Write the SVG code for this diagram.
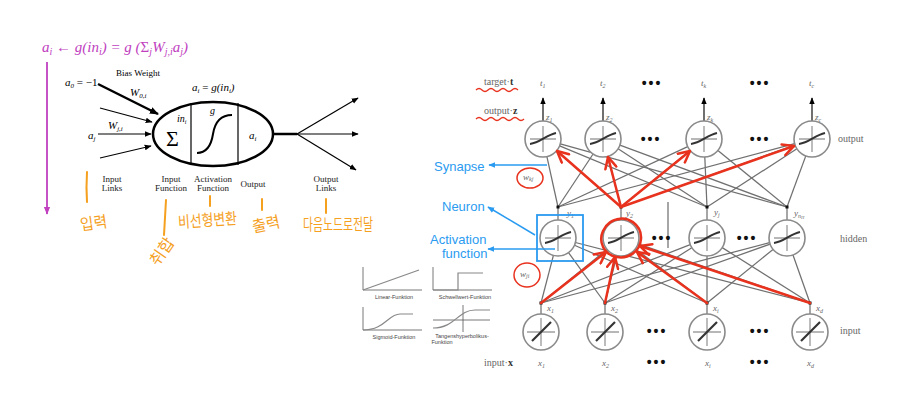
<svg xmlns="http://www.w3.org/2000/svg" width="908" height="402" viewBox="0 0 908 402">
<defs>
<style>
.ser{font-family:"Liberation Serif","DejaVu Serif",serif}
.it{font-style:italic}
.lbl{font-family:"Liberation Serif",serif;font-size:9px;fill:#222;text-anchor:middle}
.gl{font-family:"Liberation Serif",serif;font-style:italic;font-size:9px;fill:#666}
.glc{font-family:"Liberation Serif",serif;font-size:10px;fill:#666}
.dots{font-family:"Liberation Sans",sans-serif;font-size:14px;fill:#111;font-weight:bold;text-anchor:middle;letter-spacing:2px}
.ko{font-family:"Noto Sans CJK KR",sans-serif;font-size:16px;fill:#f5a01e}
.or{stroke:#f5a01e;stroke-width:2;fill:none;stroke-linecap:round}
.blue{font-family:"Liberation Sans","Open Sans",sans-serif;font-size:13px;fill:#2a9bf0}
.conn line{stroke:#707070;stroke-width:1.25}
.nc{fill:#fff;stroke:#8a8a8a;stroke-width:1.6}
.cross{stroke:#a0a0a0;stroke-width:1.4}
.act{stroke:#333;stroke-width:2;fill:none}
.red{stroke:#e8321e;stroke-width:2.5;fill:none;stroke-linecap:round}
.tiny{font-family:"Liberation Sans",sans-serif;font-size:5.5px;fill:#444;text-anchor:middle}
.ax{stroke:#555;stroke-width:0.8;fill:none}
.cv{stroke:#888;stroke-width:1.2;fill:none}
</style>
<marker id="ab" viewBox="0 0 10 10" refX="9" refY="5" markerWidth="7" markerHeight="7" markerUnits="userSpaceOnUse" orient="auto"><path d="M0,1 L10,5 L0,9 z" fill="#000"/></marker>
<marker id="abk" viewBox="0 0 10 10" refX="9" refY="5" markerWidth="9" markerHeight="9" markerUnits="userSpaceOnUse" orient="auto"><path d="M0,1 L10,5 L0,9 z" fill="#000"/></marker>
<marker id="ap" viewBox="0 0 10 10" refX="9" refY="5" markerWidth="8" markerHeight="8" markerUnits="userSpaceOnUse" orient="auto"><path d="M0,1 L10,5 L0,9 z" fill="#c040c0"/></marker>
<marker id="abl" viewBox="0 0 10 10" refX="9" refY="5" markerWidth="7" markerHeight="7" markerUnits="userSpaceOnUse" orient="auto"><path d="M0,1 L10,5 L0,9 z" fill="#2a9bf0"/></marker>
<marker id="ar" viewBox="0 0 10 10" refX="9" refY="5" markerWidth="14" markerHeight="14" markerUnits="userSpaceOnUse" orient="auto"><path d="M1,1 L9,5 L1,9" fill="none" stroke="#e8321e" stroke-width="1.8" stroke-linecap="round" stroke-linejoin="round"/></marker>
</defs>
<rect width="908" height="402" fill="#fff"/>

<!-- LEFT: single neuron model -->
<g id="formula">
<text x="42" y="52" class="ser it" font-size="15" fill="#c040c0">a<tspan font-size="10" dy="3">i</tspan><tspan dy="-3"> ← g(in</tspan><tspan font-size="10" dy="3">i</tspan><tspan dy="-3">) = g (</tspan><tspan font-style="normal">Σ</tspan><tspan font-size="10" dy="3">j</tspan><tspan dy="-3">W</tspan><tspan font-size="10" dy="3">j,i</tspan><tspan dy="-3">a</tspan><tspan font-size="10" dy="3">j</tspan><tspan dy="-3">)</tspan></text>
<line x1="47" y1="62" x2="47" y2="214" stroke="#c040c0" stroke-width="1.8" marker-end="url(#ap)"/>
</g>

<g id="neuron-inputs">
<text x="65" y="86" class="ser it" font-size="11" fill="#000">a<tspan font-size="7" dy="2">0</tspan><tspan dy="-2" font-style="normal"> = −1</tspan></text>
<text x="138" y="76" class="ser" font-size="9" fill="#000" text-anchor="middle">Bias Weight</text>
<text x="130" y="96" class="ser it" font-size="11" fill="#000">W<tspan font-size="7" dy="2">0,i</tspan></text>
<text x="108" y="129" class="ser it" font-size="11" fill="#000">W<tspan font-size="7" dy="2">j,i</tspan></text>
<text x="88" y="139" class="ser it" font-size="11" fill="#000">a<tspan font-size="7" dy="2">j</tspan></text>
<line x1="98" y1="84" x2="158" y2="114" stroke="#000" stroke-width="2.5" marker-end="url(#abk)"/>
<line x1="100" y1="108" x2="152" y2="122" stroke="#000" stroke-width="1.2" marker-end="url(#ab)"/>
<line x1="98" y1="134" x2="151" y2="134" stroke="#000" stroke-width="1.2" marker-end="url(#ab)"/>
<line x1="100" y1="158" x2="151" y2="146" stroke="#000" stroke-width="1.2" marker-end="url(#ab)"/>
</g>

<g id="neuron-body">
<text x="192" y="91" class="ser it" font-size="11" fill="#000">a<tspan font-size="7" dy="2">i</tspan><tspan dy="-2" font-style="normal"> = </tspan>g(in<tspan font-size="7" dy="2">i</tspan><tspan dy="-2">)</tspan></text>
<ellipse cx="213" cy="134" rx="60" ry="32" fill="#fff" stroke="#000" stroke-width="2.5"/>
<line x1="191" y1="103" x2="191" y2="165" stroke="#000" stroke-width="1.2"/>
<line x1="238" y1="103" x2="238" y2="165" stroke="#000" stroke-width="1.2"/>
<text x="166" y="146" class="ser" font-size="22" fill="#000">Σ</text>
<text x="177" y="122" class="ser it" font-size="10" fill="#000">in<tspan font-size="6" dy="2">i</tspan></text>
<text x="210" y="114" class="ser it" font-size="10" fill="#000">g</text>
<path d="M197,153 Q210,153 213,134 Q216,115 232,115" fill="none" stroke="#000" stroke-width="2"/>
<text x="249" y="139" class="ser it" font-size="11" fill="#000">a<tspan font-size="7" dy="2">i</tspan></text>
</g>

<g id="neuron-outputs">
<line x1="273" y1="134" x2="297" y2="134" stroke="#000" stroke-width="2.5"/>
<line x1="297" y1="134" x2="358" y2="98" stroke="#000" stroke-width="1.2" marker-end="url(#ab)"/>
<line x1="297" y1="134" x2="358" y2="134" stroke="#000" stroke-width="1.2" marker-end="url(#ab)"/>
<line x1="297" y1="134" x2="356" y2="170" stroke="#000" stroke-width="1.2" marker-end="url(#ab)"/>
</g>

<g id="neuron-labels">
<text class="lbl"><tspan x="112" y="182">Input</tspan><tspan x="112" y="191">Links</tspan></text>
<text class="lbl"><tspan x="171" y="182">Input</tspan><tspan x="171" y="191">Function</tspan></text>
<text class="lbl"><tspan x="213" y="182">Activation</tspan><tspan x="213" y="191">Function</tspan></text>
<text class="lbl" x="253" y="187">Output</text>
<text class="lbl"><tspan x="326" y="182">Output</tspan><tspan x="326" y="191">Links</tspan></text>
</g>

<g id="korean-notes">
<path class="or" d="M87,172 Q86,188 87,202"/>
<text class="ko" x="80" y="229" textLength="27" lengthAdjust="spacingAndGlyphs" transform="rotate(-8 92 222)">입력</text>
<path class="or" d="M166,200 Q165,218 164,235"/>
<text class="ko" x="147" y="258" textLength="30" lengthAdjust="spacingAndGlyphs" transform="rotate(-55 161 252)">취합</text>
<path class="or" d="M210,196 L210,206"/>
<text class="ko" x="178" y="226" textLength="59" lengthAdjust="spacingAndGlyphs" transform="rotate(-4 207 220)">비선형변환</text>
<path class="or" d="M262,199 L262,210"/>
<text class="ko" x="252" y="230" textLength="28" lengthAdjust="spacingAndGlyphs" transform="rotate(-12 266 224)">출력</text>
<path class="or" d="M326,199 L326,213"/>
<text class="ko" x="303" y="230" font-size="15" textLength="70" lengthAdjust="spacingAndGlyphs">다음노드로전달</text>
</g>

<!-- RIGHT: multilayer network -->
<g id="activation-charts">
<path class="ax" d="M363,290 L363,267 M363,290 L422,290"/>
<path class="cv" d="M363,290 L419,270"/>
<text class="tiny" x="394" y="299">Linear-Funktion</text>
<path class="ax" d="M433,290 L433,267 M433,290 L492,290"/>
<path class="cv" d="M433,290 L458,290 L458,273 L483,273"/>
<text class="tiny" x="465" y="299">Schwellwert-Funktion</text>
<path class="ax" d="M363,330 L363,307 M363,330 L422,330"/>
<path class="cv" d="M363,330 C385,330 388,314 400,314 L413,314"/>
<text class="tiny" x="394" y="339">Sigmoid-Funktion</text>
<path class="ax" d="M463,332 L463,305 M433,320 L490,320"/>
<path class="cv" d="M433,328 C455,328 458,310 475,310 L490,310"/>
<text class="tiny" x="462" y="338">Tangenshyperbolikus-</text>
<text class="tiny" x="442" y="344">Funktion</text>
</g>

<g id="connectors" class="conn">
<line x1="541" y1="303" x2="553.4" y2="255.4"/><line x1="605" y1="303" x2="568.5" y2="252.6"/><line x1="707" y1="303" x2="574.5" y2="245.2"/><line x1="810" y1="303" x2="575.4" y2="242.5"/>
<line x1="541" y1="303" x2="607" y2="249.4"/><line x1="605" y1="303" x2="616.7" y2="255.5"/><line x1="707" y1="303" x2="635.4" y2="248.9"/><line x1="810" y1="303" x2="638" y2="243.9"/>
<line x1="541" y1="303" x2="690.2" y2="244.6"/><line x1="605" y1="303" x2="691.8" y2="247.7"/><line x1="707" y1="303" x2="707" y2="256"/><line x1="810" y1="303" x2="722.2" y2="247.6"/>
<line x1="541" y1="303" x2="769.6" y2="242.6"/><line x1="605" y1="303" x2="770.1" y2="244.1"/><line x1="707" y1="303" x2="773" y2="249.4"/><line x1="810" y1="303" x2="793" y2="255"/>
<line x1="558" y1="207" x2="546.9" y2="156.6"/><line x1="621" y1="207" x2="556.6" y2="150.8"/><line x1="707" y1="207" x2="559.6" y2="145.9"/><line x1="787" y1="207" x2="560.3" y2="143.8"/>
<line x1="558" y1="207" x2="593.1" y2="154"/><line x1="621" y1="207" x2="607.6" y2="156.4"/><line x1="707" y1="207" x2="618.1" y2="148.8"/><line x1="787" y1="207" x2="619.9" y2="145.2"/>
<line x1="558" y1="207" x2="687.7" y2="146.6"/><line x1="621" y1="207" x2="690.1" y2="150.4"/><line x1="707" y1="207" x2="704.8" y2="157"/><line x1="787" y1="207" x2="717.9" y2="150.4"/>
<line x1="558" y1="207" x2="794.6" y2="143.7"/><line x1="621" y1="207" x2="795" y2="145"/><line x1="707" y1="207" x2="796.9" y2="148.8"/><line x1="787" y1="207" x2="805.8" y2="155.9"/>
<line x1="541" y1="303" x2="541" y2="314"/><line x1="605" y1="303" x2="605" y2="314"/><line x1="707" y1="303" x2="707" y2="314"/><line x1="810" y1="303" x2="810" y2="314"/>
<line x1="558" y1="207" x2="558" y2="220"/><line x1="621" y1="207" x2="621" y2="220"/><line x1="707" y1="207" x2="707" y2="220"/><line x1="787" y1="207" x2="787" y2="220"/>
<line x1="668" y1="202" x2="668" y2="248"/>
<line x1="543" y1="121" x2="543" y2="98" style="stroke:#222;stroke-width:1.3" marker-end="url(#ab)"/>
<line x1="603" y1="121" x2="603" y2="98" style="stroke:#222;stroke-width:1.3" marker-end="url(#ab)"/>
<line x1="704" y1="121" x2="704" y2="98" style="stroke:#222;stroke-width:1.3" marker-end="url(#ab)"/>
<line x1="812" y1="121" x2="812" y2="98" style="stroke:#222;stroke-width:1.3" marker-end="url(#ab)"/>
</g>

<g id="junction-dots" fill="#111">
<rect x="539.5" y="301.5" width="3" height="3"/><rect x="603.5" y="301.5" width="3" height="3"/><rect x="705.5" y="301.5" width="3" height="3"/><rect x="808.5" y="301.5" width="3" height="3"/>
<rect x="556.5" y="205.5" width="3" height="3"/><rect x="619.5" y="205.5" width="3" height="3"/><rect x="705.5" y="205.5" width="3" height="3"/><rect x="785.5" y="205.5" width="3" height="3"/>
</g>

<g id="output-nodes">
<g id="out-1"><circle class="nc" cx="543" cy="139" r="18"/><path class="cross" d="M530,139 H556 M543,126 V152"/><path class="act" d="M530,144 C540,143 546,135 556,133"/></g>
<g id="out-2"><circle class="nc" cx="603" cy="139" r="18"/><path class="cross" d="M590,139 H616 M603,126 V152"/><path class="act" d="M590,144 C600,143 606,135 616,133"/></g>
<g id="out-k"><circle class="nc" cx="704" cy="139" r="18"/><path class="cross" d="M691,139 H717 M704,126 V152"/><path class="act" d="M691,144 C701,143 707,135 717,133"/></g>
<g id="out-c"><circle class="nc" cx="812" cy="139" r="18"/><path class="cross" d="M799,139 H825 M812,126 V152"/><path class="act" d="M799,144 C809,143 815,135 825,133"/></g>
</g>

<g id="hidden-nodes">
<g id="hid-1"><circle class="nc" cx="558" cy="238" r="18"/><path class="cross" d="M545,238 H571 M558,225 V251"/><path class="act" d="M545,243 C555,242 561,234 571,232"/></g>
<g id="hid-2"><circle class="nc" cx="621" cy="238" r="18"/><path class="cross" d="M608,238 H634 M621,225 V251"/><path class="act" d="M608,243 C618,242 624,234 634,232"/></g>
<g id="hid-j"><circle class="nc" cx="707" cy="238" r="18"/><path class="cross" d="M694,238 H720 M707,225 V251"/><path class="act" d="M694,243 C704,242 710,234 720,232"/></g>
<g id="hid-m"><circle class="nc" cx="787" cy="238" r="18"/><path class="cross" d="M774,238 H800 M787,225 V251"/><path class="act" d="M774,243 C784,242 790,234 800,232"/></g>
</g>

<g id="input-nodes">
<g id="in-1"><circle class="nc" cx="541" cy="332" r="18"/><path class="cross" d="M527,332 H555 M541,318 V346"/><path class="act" d="M532,341 L551,322" style="stroke-width:2.2"/></g>
<g id="in-2"><circle class="nc" cx="605" cy="332" r="18"/><path class="cross" d="M591,332 H619 M605,318 V346"/><path class="act" d="M596,341 L615,322" style="stroke-width:2.2"/></g>
<g id="in-i"><circle class="nc" cx="707" cy="332" r="18"/><path class="cross" d="M693,332 H721 M707,318 V346"/><path class="act" d="M698,341 L717,322" style="stroke-width:2.2"/></g>
<g id="in-d"><circle class="nc" cx="810" cy="332" r="18"/><path class="cross" d="M796,332 H824 M810,318 V346"/><path class="act" d="M801,341 L820,322" style="stroke-width:2.2"/></g>
</g>

<g id="network-labels">
<text class="glc" x="484" y="85">target·<tspan font-weight="bold" fill="#333">t</tspan></text>
<text class="glc" x="484" y="114">output·<tspan font-weight="bold" fill="#333">z</tspan></text>
<text class="gl" x="540" y="86">t<tspan font-size="6" dy="2">1</tspan></text>
<text class="gl" x="600" y="86">t<tspan font-size="6" dy="2">2</tspan></text>
<text class="gl" x="701" y="86">t<tspan font-size="6" dy="2">k</tspan></text>
<text class="gl" x="809" y="86">t<tspan font-size="6" dy="2">c</tspan></text>
<text class="dots" x="652" y="88">•••</text>
<text class="dots" x="760" y="88">•••</text>
<text class="gl" x="546" y="120">z<tspan font-size="6" dy="2">1</tspan></text>
<text class="gl" x="606" y="120">z<tspan font-size="6" dy="2">2</tspan></text>
<text class="gl" x="707" y="120">z<tspan font-size="6" dy="2">k</tspan></text>
<text class="gl" x="815" y="120">z<tspan font-size="6" dy="2">c</tspan></text>
<text class="dots" x="651" y="144" font-size="16">•••</text>
<text class="dots" x="760" y="144" font-size="16">•••</text>
<text class="glc" x="838" y="142">output</text>
<text class="gl" x="567" y="216">y<tspan font-size="6" dy="2">1</tspan></text>
<text class="gl" x="626" y="216">y<tspan font-size="6" dy="2">2</tspan></text>
<text class="gl" x="714" y="215">y<tspan font-size="6" dy="2">j</tspan></text>
<text class="gl" x="794" y="216">y<tspan font-size="6" dy="2">n</tspan><tspan font-size="4.5" dy="1">H</tspan></text>
<text class="dots" x="662" y="243" font-size="16">•••</text>
<text class="dots" x="747" y="243" font-size="16">•••</text>
<text class="glc" x="840" y="242">hidden</text>
<text class="gl" x="547" y="311">x<tspan font-size="6" dy="2">1</tspan></text>
<text class="gl" x="611" y="311">x<tspan font-size="6" dy="2">2</tspan></text>
<text class="gl" x="713" y="311">x<tspan font-size="6" dy="2">i</tspan></text>
<text class="gl" x="816" y="311">x<tspan font-size="6" dy="2">d</tspan></text>
<text class="dots" x="657" y="336" font-size="16">•••</text>
<text class="dots" x="760" y="336" font-size="16">•••</text>
<text class="glc" x="840" y="334">input</text>
<text class="glc" x="484" y="366">input·<tspan font-weight="bold" fill="#333">x</tspan></text>
<text class="gl" x="538" y="366">x<tspan font-size="6" dy="2">1</tspan></text>
<text class="gl" x="602" y="366">x<tspan font-size="6" dy="2">2</tspan></text>
<text class="gl" x="705" y="366">x<tspan font-size="6" dy="2">i</tspan></text>
<text class="gl" x="807" y="366">x<tspan font-size="6" dy="2">d</tspan></text>
<text class="dots" x="657" y="367" font-size="11">•••</text>
<text class="dots" x="760" y="367" font-size="11">•••</text>
</g>

<g id="blue-annotations">
<text class="blue" x="434" y="171">Synapse</text>
<line x1="547" y1="165" x2="489" y2="165" stroke="#2a9bf0" stroke-width="1.5" marker-end="url(#abl)"/>
<text class="blue" x="442" y="211">Neuron</text>
<line x1="535" y1="235" x2="488" y2="207" stroke="#2a9bf0" stroke-width="1.5" marker-end="url(#abl)"/>
<rect x="537" y="215" width="46" height="46" fill="none" stroke="#2a9bf0" stroke-width="1.8"/>
<text class="blue"><tspan x="430" y="244">Activation</tspan><tspan x="442" y="258">function</tspan></text>
<line x1="555" y1="249" x2="488" y2="249" stroke="#2a9bf0" stroke-width="1.5" marker-end="url(#abl)"/>
</g>

<g id="red-annotations">
<path d="M476,90 q3,-3 6,0 t6,0 t6,0 t6,0 t6,0 t6,0 t6,0" stroke="#e8321e" stroke-width="1.3" fill="none"/>
<path d="M476,119 q3,-3 6,0 t6,0 t6,0 t6,0 t6,0 t6,0 t6,0 t6,0" stroke="#e8321e" stroke-width="1.3" fill="none"/>
<ellipse cx="530" cy="178" rx="13" ry="10" stroke="#e8321e" stroke-width="1.5" fill="none"/>
<text class="gl" x="523" y="180" font-size="8">w<tspan font-size="6" dy="1">kj</tspan></text>
<ellipse cx="527" cy="275" rx="13" ry="12" stroke="#e8321e" stroke-width="1.5" fill="none"/>
<text class="gl" x="520" y="277" font-size="8">w<tspan font-size="6" dy="1">ji</tspan></text>
<line class="red" x1="621" y1="207" x2="557" y2="151" marker-end="url(#ar)"/>
<line class="red" x1="621" y1="207" x2="608" y2="157" marker-end="url(#ar)"/>
<line class="red" x1="621" y1="207" x2="690" y2="151" marker-end="url(#ar)"/>
<line class="red" x1="621" y1="207" x2="794" y2="146" marker-end="url(#ar)"/>
<line class="red" x1="541" y1="303" x2="606" y2="252" marker-end="url(#ar)"/>
<line class="red" x1="605" y1="303" x2="615" y2="257" marker-end="url(#ar)"/>
<line class="red" x1="707" y1="303" x2="637" y2="252" marker-end="url(#ar)"/>
<line class="red" x1="810" y1="303" x2="640" y2="246" marker-end="url(#ar)"/>
<path class="red" d="M612,221 C628,213 642,226 641,239 C640,252 628,259 617,257 C604,255 598,242 603,231 C606,224 613,219 620,219"/>
</g>
</svg>
